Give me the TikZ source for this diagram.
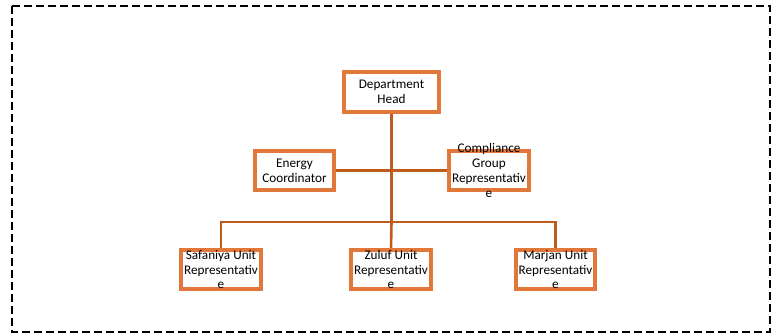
\documentclass[tikz,border=0pt]{standalone}
\usepackage{fontspec}
\setmainfont{Carlito}
\definecolor{boxc}{HTML}{E2773A}
\definecolor{linec}{HTML}{C05B1E}
\begin{document}
\begin{tikzpicture}[x=1pt,y=-1pt,
  box/.style={draw=boxc,line width=2.6pt,fill=white,minimum width=#1,minimum height=38pt,inner sep=0pt},
  box/.default=78pt,
  txt/.style={align=center,font=\fontsize{13.2}{14.8}\selectfont,inner sep=0pt},
  conn/.style={draw=linec,line width=2.6pt}]
\useasboundingbox (0,0) rectangle (776,335);
\draw[line width=1.4pt,dash pattern=on 8pt off 4pt] (12,6) rectangle (770,332);
% boxes
\node[box=93pt] (dh) at (391.5,92) {};
\node[box] (ec) at (294.5,170.5) {};
\node[box] (cg) at (489,170.5) {};
\node[box] (sa) at (221,269.5) {};
\node[box] (zu) at (391,269.5) {};
\node[box] (ma) at (555.5,269.5) {};
\coordinate (j2) at (dh.south |- 0,222);
% connectors
\draw[conn] (dh.south) -- (j2);
\draw[conn] (ec.east) -- (cg.west);
\draw[conn] (sa.north) |- (j2) -| (ma.north);
\draw[conn] (j2) -- (zu.north);
% redraw box outlines over connectors
\foreach \n in {dh,ec,cg,sa,zu,ma}{\draw[draw=boxc,line width=2.6pt] (\n.north west) rectangle (\n.south east);}
% texts
\node[txt] (tdh) at (dh.center) {Department\\Head};
\node[txt] (tec) at (ec.center) {Energy\\Coordinator};
\node[txt] (tcg) at (cg.center) {Compliance\\Group\\Representativ\\e};
\node[txt] (tsa) at (sa.center) {Safaniya Unit\\Representativ\\e};
\node[txt] (tzu) at (zu.center) {Zuluf Unit\\Representativ\\e};
\node[txt] (tma) at (ma.center) {Marjan Unit\\Representativ\\e};
\end{tikzpicture}
\end{document}
